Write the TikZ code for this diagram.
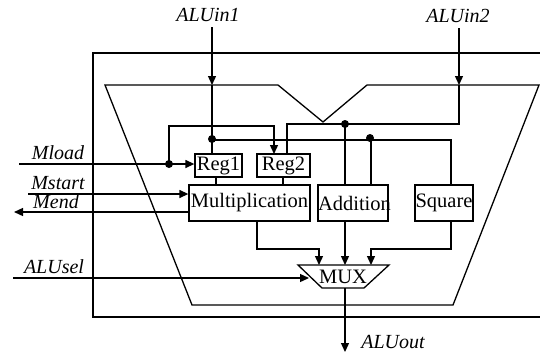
\documentclass[tikz,border=0pt]{standalone}
\usepackage{fontspec}
\setmainfont{Liberation Serif}
\usetikzlibrary{arrows.meta}
\begin{document}
\begin{tikzpicture}[x=1pt,y=-1pt,
  line width=1.3pt,
  arr/.style={-{Triangle[length=9pt,width=8pt]}},
  box/.style={draw, line width=1.3pt, inner sep=0pt, font=\fontsize{20.5}{24}\selectfont},
  lbl/.style={inner sep=0pt, font=\fontsize{20}{24}\selectfont\itshape},
  jdot/.style={circle, fill, inner sep=0pt, minimum size=8pt}]
\useasboundingbox (0,0) rectangle (540,354);
\clip (0,0) rectangle (540,354);

% outer frame and datapath outline
\draw (93,53) rectangle (570,317);
\draw (105,85) -- (278,85) -- (323,122) -- (367,85) -- (539,85) -- (453,305) -- (192,305) -- cycle;

% blocks
\node[box, minimum width=47pt, minimum height=23pt] (reg1) at (218.5,165.5) {Reg1};
\node[box, minimum width=53pt, minimum height=23pt] (reg2) at (283.5,165.5) {Reg2};
\node[box, minimum width=121pt, minimum height=36pt] (mult) at (249.5,203) {Multiplication};
\node[box, minimum width=70pt, minimum height=36pt, text width=70pt, align=center] (add) at (353,203) {Addition};
\node[box, minimum width=58pt, minimum height=36pt] (sq) at (444,203) {Square};
\draw (298,265) -- (389,265) -- (364,288) -- (322,288) -- cycle;
\node[inner sep=0pt, font=\fontsize{20.5}{24}\selectfont] (mux) at (343,277) {MUX};

% labels
\node[lbl] (lin1) at (208,15) {ALUin1};
\node[lbl] (lin2) at (458,16) {ALUin2};
\node[lbl] (lload) at (58,153) {Mload};
\node[lbl] (lstart) at (58,183) {Mstart};
\node[lbl] (lend) at (56,202) {Mend};
\node[lbl] (lsel) at (54,267) {ALUsel};
\node[lbl] (lout) at (393,342) {ALUout};

% coordinates
\coordinate (in1) at (212,27);
\coordinate (in1e) at (212,85);
\coordinate (in2) at (459,28);
\coordinate (in2e) at (459,85);
\coordinate (j1) at (212,139);
\coordinate (j2) at (345,124);
\coordinate (j3) at (371,140);
\coordinate (jl) at (169,164);
\coordinate (load) at (19,164);
\coordinate (start) at (28,194);
\coordinate (mend) at (14,212);
\coordinate (sel) at (13,278);
\coordinate (selend) at (309,278);
\coordinate (out) at (345,352);

% ALUin1
\draw[arr] (in1) -- (in1e);
\draw (in1e) -- (in1e |- reg1.north);
\draw (212,140) -- (451,140) -- (451,185);
\draw (j3) -- (371,185);

% ALUin2
\draw[arr] (in2) -- (in2e);
\draw (in2e) -- (459,124) -- (287,124) -- (287,154);
\draw (j2) -- (345,185);

% Mload
\draw[arr] (load) -- (load -| reg1.west);
\draw[arr] (jl) -- (169,126) -- (274,126) -- (274,154);

% Reg -> Mult
\draw (216,177) -- (216,185);
\draw (283,177) -- (283,185);

% Mstart / Mend
\draw[arr] (start) -- (start -| mult.west);
\draw[arr] (mend -| mult.west) -- (mend);

% ALUsel
\draw[arr] (sel) -- (selend);

% to MUX
\draw[arr] (257,221) -- (257,249) -- (319,249) -- (319,265);
\draw[arr] (345,221) -- (345,265);
\draw[arr] (451,221) -- (451,249) -- (371,249) -- (371,265);
\draw[arr] (345,288) -- (out);

% junction dots
\node[jdot] at (j1) {};
\node[jdot] at (j2) {};
\node[jdot] at (370,138) {};
\node[jdot] at (jl) {};
\end{tikzpicture}
\end{document}
